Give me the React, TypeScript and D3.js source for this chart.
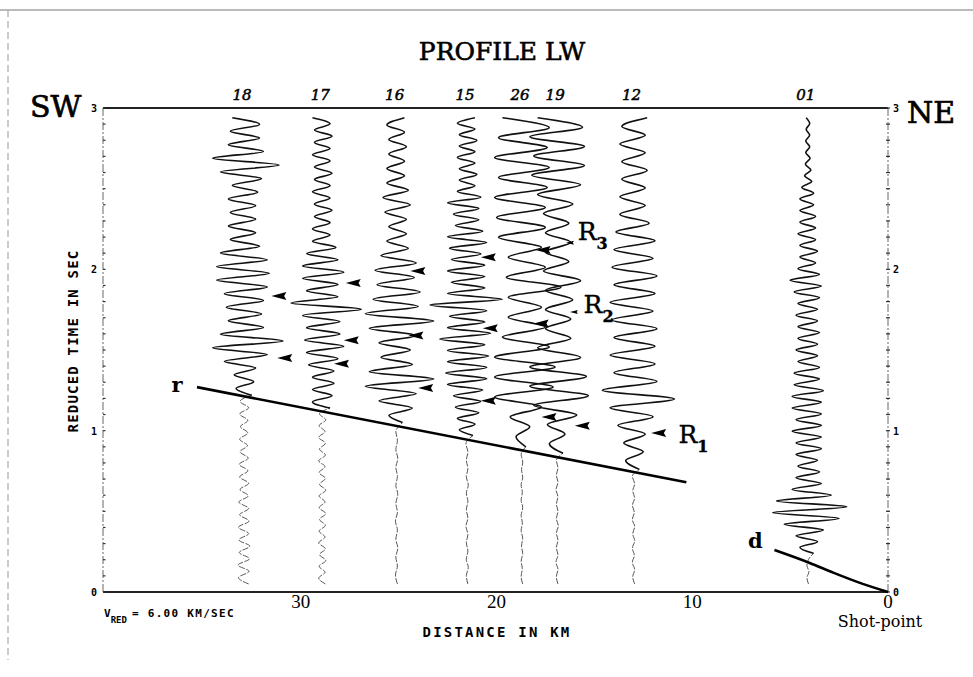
import React, { useEffect, useRef } from 'react';
import * as d3 from 'd3';

// record section, profile LW (distance in km, reduced time in s)
const traceIds = ['18', '17', '16', '15', '26', '19', '12', '01'];
const traceKm = [32.9, 28.9, 25.1, 21.5, 18.7, 16.9, 13.0, 4.1];
const traceOnset = [1.22, 1.14, 1.05, 0.97, 0.9, 0.86, 0.76, 0.24];
const traceStartT = 0.05;
const traceEndT = 2.94;

const signal18 = [2, -2, 2.5, -2.5, 3, -5, 6, -8, 10, -6, 5, -4, 4.5, -4.5, 5, -5, 6, -7, 6.5, -7, 6, -6, 4, -3.5, 3, -4, 3, -3.5, 3, -4, 3.5, -3, 4.5, -6, 9, -8, 5, -4, 4, -3.5, 4, -3];
const signal17 = [2, -2.5, 2.5, -2.5, 3, -2.5, 3, -3.5, 4, -4, 5.5, -4.5, 4.5, -4, 4.5, -5, 10, -8, 4, -4, 4, -5, 5.5, -5, 4, -4, 3.5, -2.5, 2, -2.5, 2, -2, 2.5, -2, 2, -2.5, 2, -2, 2.5, -2, 2, -2.5, 2, -2, 2.5, -2, 2, -2.5];
const signal16 = [1.5, -2, 4, -4.5, 5, -8, 9.5, -7, 4, -4, 3.5, -4.5, 5, -7, 9.5, -8, 5.5, -6, 6, -5, 4.5, -5.5, 5, -4, 3, -2.5, 2.5, -2, 2.5, -3, 3.5, -3.5, 3, -2.5, 2, -2.5, 2, -2, 2.5, -2, 2, -2.5, 2];
const signal15 = [1.5, -2, 2, -2.5, 3, -3, 3.5, -3.5, 4, -5, 5, -5.5, 5, -5, 5.5, -5, 4.5, -7, 6, -5, 4.5, -4.5, 5, -9.5, 9, -5, 4.5, -4, 4.5, -5, 4.5, -4, 3.5, -4.5, 5, -5, 4, -3, 3, -3.5, 3, -5, 3.5, -2.5, 2, -2, 2.5, -2, 2, -2.5, 2, -2, 2.5, -2, 2, -2.5, 2];
const signal26 = [1, -1.5, 2, -3, 5, -7, 8, -7, 8.5, -7, 7, -5, 6, -3.5, 5, -3.5, 10, -4, 6, -3.5, 5, -6, 6, -6.5, 6, -7, 6.5, -6, 7, -7, 6.5, -6, 7, -5];
const signal19 = [1.5, -2, 2, -2.5, 5, -6, 8, -7, 7.5, -7, 6, -5, 3.5, -3, 3.5, -3, 4, -3, 6, -3.5, 3, -3, 3.5, -3, 3, -3.5, 4, -5, 6, -6.5, 7, -6, 7, -7, 6.5, -5];
const signal12 = [1.5, -2, 2.5, -2.5, 3, -4, 5, -6, 10.5, -8, 6, -5, 5.5, -6, 5.5, -5, 6, -5.5, 5, -6, 5.5, -5, 6, -5.5, 5, -5, 5.5, -4.5, 4, -3.5, 3, -3.5, 3, -3, 3.5, -3, 3, -3.5, 3, -3, 3.5];
const signal01 = [1.5, -2, 2.5, -3, 4, -6, 8, -9, 10, -8, 6, -4, 3.5, -3, 3, -2.5, 2.5, -3, 3.5, -3, 3.5, -4, 3.5, -3, 3.5, -4, 3.5, -4, 4, -3.5, 3, -3.5, 3, -2.5, 2.5, -3, 2.5, -2.5, 3, -2.5, 2.5, -3, 2.5, -2.5, 3, -3.5, 3.5, -4.5, 3, -2.5, 2, -2, 2.5, -2, 2, -2.5, 2, -2, 2, -2, 1.5, -2, 1.5, -1.5, 1, -0.8, 0.8, -0.6, 0.6, -0.5, 0.5, -0.5, 0.5, -0.4, 0.5, -0.4];

// pre-onset noise, bottom to onset
const noise18 = [1.2, -1.4, 1.3, -1.5, 1.4, -1.2, 1.5, -1.3, 1.2, -1.4, 1.3, -1.1, 1.2, -1.3, 1.1, -1.0, 1.2, -1.1, 1.0, -1.2, 1.1, -1.0, 0.9, -1.1, 1.0, -0.9, 1.0, -1.1, 1.2, -1.0];
const noise17 = [0.8, -0.9, 0.7, -0.8, 0.9, -0.7, 0.8, -0.9, 0.7, -0.8, 0.8, -0.7, 0.9, -0.8, 0.7, -0.8, 0.9, -0.7, 0.8, -0.8, 0.7, -0.9, 0.8, -0.7, 0.8, -0.9, 0.7, -0.8, 0.9, -0.7];
const noise16 = [0.2, -0.3, 0.2, -0.2, 0.3, -0.2, 0.2, -0.3, 0.2, -0.2, 0.3, -0.2, 0.2, -0.2, 0.3, -0.2, 0.2, -0.2];
const noise15 = [0.2, -0.2, 0.3, -0.2, 0.2, -0.2, 0.2, -0.3, 0.2, -0.2, 0.2, -0.2, 0.3, -0.2, 0.2, -0.2, 0.2, -0.3];
const noise26 = [0.2, -0.2, 0.1, -0.2, 0.2, -0.1, 0.2, -0.2, 0.1, -0.2, 0.2, -0.2, 0.1, -0.2, 0.2, -0.1, 0.2, -0.2];
const noise19 = [0.2, -0.2, 0.2, -0.3, 0.2, -0.2, 0.2, -0.2, 0.3, -0.2, 0.2, -0.2, 0.2, -0.3, 0.2, -0.2, 0.2, -0.2];
const noise12 = [0.3, -0.2, 0.3, -0.3, 0.2, -0.3, 0.3, -0.2, 0.3, -0.3, 0.2, -0.3, 0.3, -0.2, 0.3, -0.3];
const noise01 = [0.2, -0.2, 0.3, -0.2, 0.2];

const signals = [signal18, signal17, signal16, signal15, signal26, signal19, signal12, signal01];
const noises = [noise18, noise17, noise16, noise15, noise26, noise19, noise12, noise01];

// picked phases (arrow tips)
const arrowKm = [31.5, 31.2, 27.7, 27.8, 28.3, 24.4, 24.5, 24.0, 20.8, 20.7, 20.8, 18.0, 18.1, 17.7, 16.0, 12.1];
const arrowT = [1.835, 1.45, 1.915, 1.56, 1.415, 1.99, 1.59, 1.265, 2.075, 1.635, 1.185, 2.12, 1.665, 1.085, 1.03, 0.985];
const smallArrowKm = [16.45, 16.25];
const smallArrowT = [2.165, 1.735];

const phaseSubs = ['3', '2', '1'];
const phaseKm = [15.85, 15.55, 10.7];
const phaseT = [2.18, 1.73, 0.925];

// travel-time lines
const lineRKm = [35.3, 10.3];
const lineRT = [1.27, 0.68];
const lineDKm = [5.8, 4.0, 2.8, 1.4, 0];
const lineDT = [0.26, 0.18, 0.12, 0.055, 0];
const lineLabels = ['r', 'd'];
const lineLabelKm = [36.6, 7.15];
const lineLabelT = [1.24, 0.272];

const distTicks = [30, 20, 10, 0];
const timeTicks = [0, 1, 2, 3];

export default function App() {
  const svgRef = useRef<SVGSVGElement>(null);

  useEffect(() => {
    if (!svgRef.current) return;
    drawChart();
  }, []);

  const drawChart = () => {
    const svg = d3.select(svgRef.current);
    svg.selectAll('*').remove();

    const serif = '"DejaVu Serif", serif';
    const mono = '"DejaVu Sans Mono", monospace';

    const x = d3.scaleLinear().domain([40.1, 0]).range([103, 888]);
    const y = d3.scaleLinear().domain([0, 3]).range([592, 108]);
    const amp = d3.scaleLinear().domain([-10, 10]).range([-39, 39]);

    // page frame (scan edges)
    svg.append('line')
      .attr('x1', 0).attr('x2', 973).attr('y1', 10).attr('y2', 10)
      .attr('stroke', '#777').attr('stroke-width', 1.2);
    svg.append('line')
      .attr('x1', 8).attr('x2', 8).attr('y1', 10).attr('y2', 660)
      .attr('stroke', '#999').attr('stroke-width', 1)
      .attr('stroke-dasharray', '7,4');

    // title and directions
    svg.append('text')
      .attr('x', 502).attr('y', 60)
      .attr('text-anchor', 'middle')
      .style('font-family', serif).style('font-size', '25px')
      .attr('stroke', '#000').attr('stroke-width', 0.6)
      .text('PROFILE LW');
    svg.append('text')
      .attr('x', 30).attr('y', 117)
      .style('font-family', serif).style('font-size', '30px')
      .attr('stroke', '#000').attr('stroke-width', 0.7)
      .text('SW');
    svg.append('text')
      .attr('x', 907).attr('y', 123)
      .style('font-family', serif).style('font-size', '30px')
      .attr('stroke', '#000').attr('stroke-width', 0.7)
      .text('NE');

    // frame: top and bottom lines, dashed sides
    svg.append('line')
      .attr('x1', x(40.1)).attr('x2', x(0)).attr('y1', y(3)).attr('y2', y(3))
      .attr('stroke', '#222').attr('stroke-width', 1.8);
    svg.append('line')
      .attr('x1', x(40.1)).attr('x2', x(0)).attr('y1', y(0)).attr('y2', y(0))
      .attr('stroke', '#222').attr('stroke-width', 2);
    [40.1, 0].forEach((k) => {
      svg.append('line')
        .attr('x1', x(k)).attr('x2', x(k)).attr('y1', y(3)).attr('y2', y(0))
        .attr('stroke', '#555').attr('stroke-width', 0.9)
        .attr('stroke-dasharray', '8,2,2,2');
    });

    // minor ticks every 0.1 s on both sides
    const minor = d3.range(0, 31).map((i) => i / 10);
    svg.append('g')
      .selectAll('line')
      .data(minor)
      .enter()
      .append('line')
      .attr('x1', x(40.1)).attr('x2', x(40.1) + 2.5)
      .attr('y1', (d) => y(d)).attr('y2', (d) => y(d))
      .attr('stroke', '#333').attr('stroke-width', 1.2);
    svg.append('g')
      .selectAll('line')
      .data(minor)
      .enter()
      .append('line')
      .attr('x1', x(0) - 2).attr('x2', x(0) + 2)
      .attr('y1', (d) => y(d)).attr('y2', (d) => y(d))
      .attr('stroke', '#333').attr('stroke-width', 1.2);

    // time labels
    timeTicks.forEach((t) => {
      svg.append('text')
        .attr('x', x(40.1) - 6).attr('y', y(t) + 4)
        .attr('text-anchor', 'end')
        .style('font-family', mono).style('font-size', '10px').style('font-weight', 'bold')
        .text(String(t));
      svg.append('text')
        .attr('x', x(0) + 5).attr('y', y(t) + 4)
        .style('font-family', mono).style('font-size', '10px').style('font-weight', 'bold')
        .text(String(t));
    });

    // distance labels
    distTicks.forEach((k) => {
      svg.append('text')
        .attr('x', x(k)).attr('y', 608)
        .attr('text-anchor', 'middle')
        .style('font-family', '"Liberation Serif", serif').style('font-size', '19px')
        .text(String(k));
    });

    // axis titles
    svg.append('text')
      .attr('transform', 'translate(78,341) rotate(-90)')
      .attr('text-anchor', 'middle')
      .style('font-family', mono).style('font-size', '14px').style('font-weight', 'bold')
      .style('letter-spacing', '1.2px')
      .text('REDUCED TIME IN SEC');
    svg.append('text')
      .attr('x', 497).attr('y', 637)
      .attr('text-anchor', 'middle')
      .style('font-family', mono).style('font-size', '14px').style('font-weight', 'bold')
      .style('letter-spacing', '2.2px')
      .text('DISTANCE IN KM');

    const vred = svg.append('text')
      .attr('x', 104).attr('y', 617)
      .style('font-family', mono).style('font-size', '11px').style('font-weight', 'bold');
    vred.append('tspan').text('V');
    vred.append('tspan').attr('dy', 6).style('font-size', '9px').text('RED');
    vred.append('tspan').attr('dy', -6).attr('dx', 5).style('letter-spacing', '1.3px').text('= 6.00 KM/SEC');

    svg.append('text')
      .attr('x', 880).attr('y', 627)
      .attr('text-anchor', 'middle')
      .style('font-family', serif).style('font-size', '16px')
      .text('Shot-point');

    // traces
    const line = d3.line<[number, number]>()
      .x((d) => d[0])
      .y((d) => d[1])
      .curve(d3.curveMonotoneY);

    traceIds.forEach((id, k) => {
      const x0 = x(traceKm[k]);
      const onset = traceOnset[k];
      const sig = signals[k];
      const noi = noises[k];

      const sigPts: [number, number][] = sig.map((a, i) => [
        x0 + amp(a),
        y(onset + (i * (traceEndT - onset)) / (sig.length - 1)),
      ]);
      const noiPts: [number, number][] = noi.map((a, i) => [
        x0 + amp(a),
        y(traceStartT + (i * (onset - traceStartT)) / noi.length),
      ]);
      noiPts.push(sigPts[0]);

      svg.append('path')
        .attr('d', line(noiPts))
        .attr('fill', 'none')
        .attr('stroke', '#444')
        .attr('stroke-width', 0.9)
        .attr('stroke-dasharray', '6,1.5');

      svg.append('path')
        .attr('d', line(sigPts))
        .attr('fill', 'none')
        .attr('stroke', '#111')
        .attr('stroke-width', 1.6)
        .attr('stroke-linejoin', 'round');

      svg.append('text')
        .attr('x', x0 - 2).attr('y', 100)
        .attr('text-anchor', 'middle')
        .style('font-family', serif).style('font-size', '15px').style('font-style', 'italic')
        .attr('stroke', '#000').attr('stroke-width', 0.5)
        .text(id);
    });

    // travel-time lines
    svg.append('path')
      .attr('d', d3.line<number>().x((d) => x(d)).y((_, i) => y(lineRT[i]))(lineRKm))
      .attr('fill', 'none').attr('stroke', '#000').attr('stroke-width', 2.6);
    svg.append('path')
      .attr('d', d3.line<number>().x((d) => x(d)).y((_, i) => y(lineDT[i])).curve(d3.curveMonotoneX)(lineDKm))
      .attr('fill', 'none').attr('stroke', '#000').attr('stroke-width', 2.6);

    lineLabels.forEach((lab, i) => {
      svg.append('text')
        .attr('x', x(lineLabelKm[i])).attr('y', y(lineLabelT[i]))
        .style('font-family', serif).style('font-size', '21px').style('font-weight', 'bold')
        .text(lab);
    });

    // arrows (tip at the pick, pointing left)
    const tri = (tx: number, ty: number, w: number, h: number) =>
      `M${tx},${ty}L${tx + w},${ty - h / 2}L${tx + w * 0.85},${ty}L${tx + w},${ty + h / 2}Z`;
    arrowKm.forEach((k, i) => {
      svg.append('path')
        .attr('d', tri(x(k), y(arrowT[i]), 15, 8))
        .attr('fill', '#000');
    });
    smallArrowKm.forEach((k, i) => {
      svg.append('path')
        .attr('d', tri(x(k), y(smallArrowT[i]), 8, 4))
        .attr('fill', '#000');
    });

    // phase labels R1..R3
    phaseSubs.forEach((s, i) => {
      const t = svg.append('text')
        .attr('x', x(phaseKm[i])).attr('y', y(phaseT[i]))
        .style('font-family', serif).style('font-size', '25px')
        .attr('stroke', '#000').attr('stroke-width', 0.4);
      t.append('tspan').text('R');
      t.append('tspan').attr('dy', 9).style('font-size', '16px').style('font-weight', 'bold').text(s);
    });
  };

  return (
    <div>
      <svg
        ref={svgRef}
        width={973}
        height={677}
        style={{ position: 'absolute', left: 0, top: 0, background: '#fff' }}
      ></svg>
    </div>
  );
}
